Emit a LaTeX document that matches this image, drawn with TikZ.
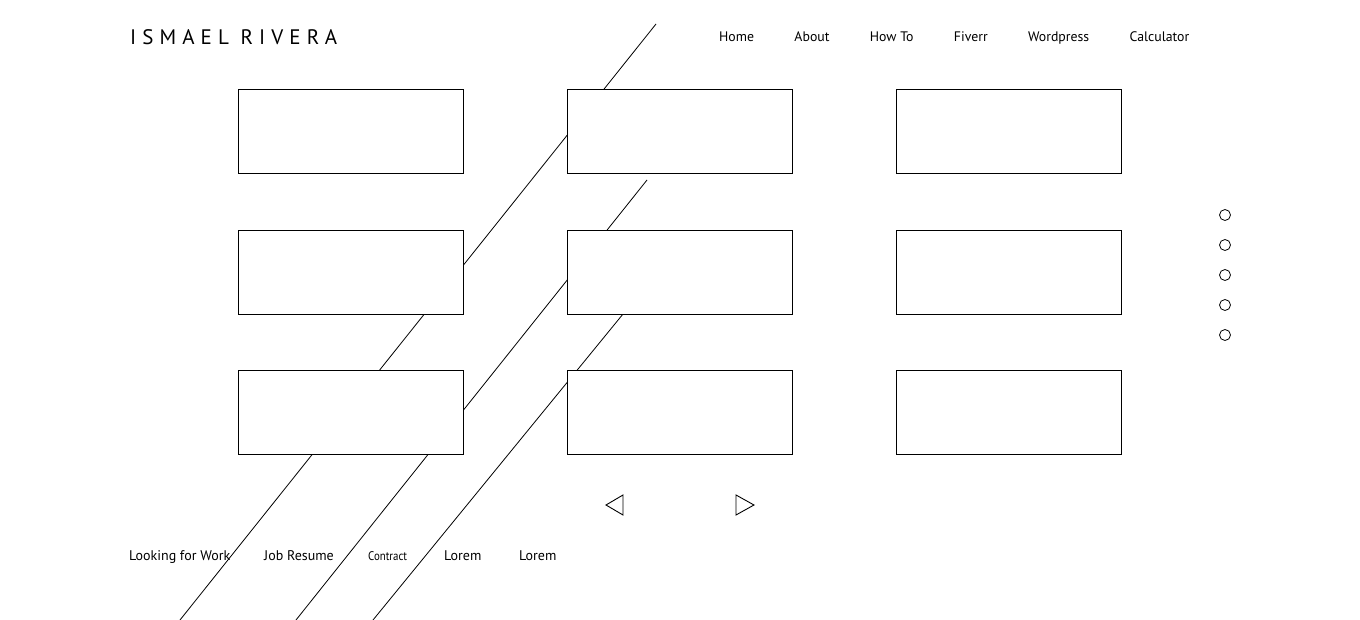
\documentclass[tikz,border=0pt]{standalone}
\usepackage{fontspec}
\usepackage{graphicx}
\setmainfont{PT Sans}
\newfontfamily\brandfont[LetterSpace=29]{PT Sans}
\usetikzlibrary{matrix,positioning}

\begin{document}
\begin{tikzpicture}[x=1pt,y=-1pt,
  tiles/.style={matrix of nodes,nodes in empty cells,
  column sep=103pt,row sep=55.5pt,
  nodes={draw,fill=white,line width=0.9pt,minimum width=225pt,minimum height=84pt,outer sep=0pt}},
  dots/.style={matrix of nodes,nodes in empty cells,row sep=18.2pt,
  nodes={draw,circle,line width=0.8pt,minimum size=11pt,inner sep=0pt,outer sep=0pt}},
  brand/.style={font=\brandfont\fontsize{21}{25}\selectfont,inner sep=0pt,anchor=base west},
  navlink/.style={font=\fontsize{13.8}{16}\selectfont,inner sep=0pt},
  footlink/.style={font=\fontsize{14}{16}\selectfont,inner sep=0pt,anchor=base west},
  slash/.style={line width=0.8pt},
  pager/.style={line width=0.9pt,line join=miter}]

  \fill[white] (0,0) rectangle (1360,620);
  \useasboundingbox (0,0) rectangle (1360,620);

  % draw slashes behind the tiles
  \coordinate (s1a) at (656,24);  \coordinate (s1b) at (180,620);
  \coordinate (s2a) at (647,180); \coordinate (s2b) at (296,620);
  \coordinate (s3a) at (641,292); \coordinate (s3b) at (373,620);
  \draw[slash] (s1a) -- (s1b)
  (s2a) -- (s2b)
  (s3a) -- (s3b);

  \matrix[tiles] (tile) at (680,272) {
    & & \\
    & & \\
    & & \\};

  \node[brand] (brand) at (130,45) {ISMAEL RIVERA};

  % top menu
  \node[navlink,anchor=base west] (home) at (719,42) {Home};
  \node[navlink,base right=40pt of home] (about) {About};
  \node[navlink,base right=40pt of about] (howto) {How To};
  \node[navlink,base right=40pt of howto] (fiverr) {Fiverr};
  \node[navlink,base right=40pt of fiverr] (wordpress) {Wordpress};
  \node[navlink,base right=40pt of wordpress] (calculator) {Calculator};

  \matrix[dots] (dots) at (1225,275) {\\ \\ \\ \\ \\};

  % draw pager arrows
  \draw[pager] (623,495) -- (606,505) -- (623,515) -- cycle;
  \draw[pager] (736,495) -- (754,505) -- (736,515) -- cycle;

  % bottom links
  \node[footlink] (work) at (129,560) {Looking for Work};
  \node[footlink] (resume) at (264,560) {Job Resume};
  \node[footlink,font=\fontsize{12.5}{15}\selectfont] (contract) at (368,560) {\scalebox{0.87}[1]{Contract}};
  \node[footlink] (lorema) at (444,560) {Lorem};
  \node[footlink] (loremb) at (519,560) {Lorem};

\end{tikzpicture}
\end{document}
